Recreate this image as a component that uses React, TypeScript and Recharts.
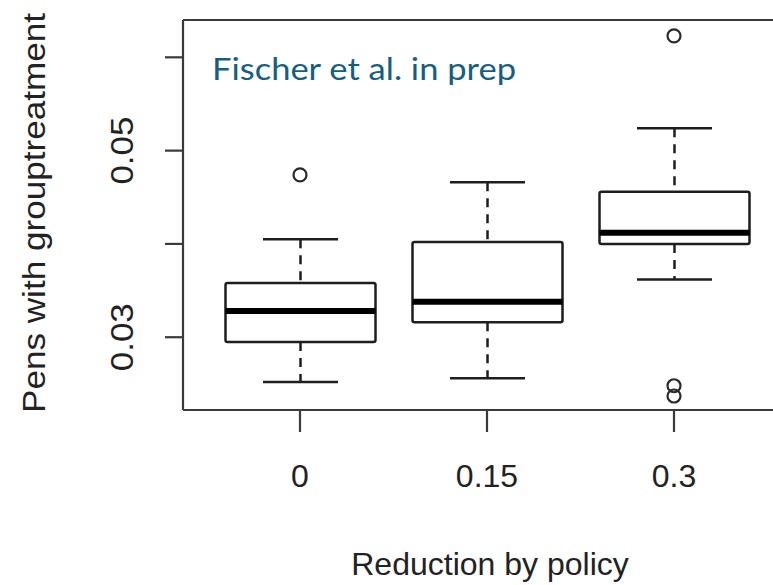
import React from 'react';
import { ComposedChart, Bar, Scatter, XAxis, YAxis, ReferenceLine } from 'recharts';

// ---- data ----
const categories = ['0', '0.15', '0.3'];
const lowerWhisker = [0.0252, 0.0256, 0.0362];
const q1 = [0.0295, 0.0316, 0.0400];
const median = [0.0328, 0.0338, 0.0412];
const q3 = [0.0358, 0.0402, 0.0456];
const upperWhisker = [0.0405, 0.0466, 0.0524];
const outlierGroups = ['0', '0.3', '0.3', '0.3'];
const outlierValues = [0.0474, 0.0623, 0.0248, 0.0237];
const yTicks = [0.03, 0.04, 0.05, 0.06];
const yTickLabels = ['0.03', '', '0.05', ''];
const yDomain = [0.0222, 0.0640];

const xTitle = 'Reduction by policy';
const yTitle = 'Pens with grouptreatment';
const note = 'Fischer et al. in prep';

const data = categories.map((g, i) => ({
  group: g,
  range: [lowerWhisker[i], upperWhisker[i]],
  lower: lowerWhisker[i],
  q1: q1[i],
  median: median[i],
  q3: q3[i],
  upper: upperWhisker[i],
}));

const outlierData = outlierGroups.map((g, i) => ({ group: g, value: outlierValues[i] }));

const FONT = '"Liberation Sans", Arial, Helvetica, sans-serif';
const INK = '#1e1e1e';

const BoxShape = (props: any) => {
  const { x, y, width, height, payload } = props;
  if (!payload) return null;
  const top = Math.min(y, y + height);
  const bot = Math.max(y, y + height);
  const span = payload.upper - payload.lower;
  const px = (v: number) => top + ((payload.upper - v) / span) * (bot - top);
  const cx = x + width / 2;
  const capHalf = width / 4;
  const yq1 = px(payload.q1);
  const yq3 = px(payload.q3);
  const ymed = px(payload.median);
  return (
    <g>
      <line x1={cx} x2={cx} y1={top} y2={yq3} stroke={INK} strokeWidth={2.5} strokeDasharray="9 7" />
      <line x1={cx} x2={cx} y1={yq1} y2={bot} stroke={INK} strokeWidth={2.5} strokeDasharray="9 7" />
      <line x1={cx - capHalf} x2={cx + capHalf} y1={top} y2={top} stroke={INK} strokeWidth={2.5} />
      <line x1={cx - capHalf} x2={cx + capHalf} y1={bot} y2={bot} stroke={INK} strokeWidth={2.5} />
      <rect x={x} y={yq3} width={width} height={yq1 - yq3} fill="#fff" stroke={INK} strokeWidth={2.5} rx={2} />
      <line x1={x} x2={x + width} y1={ymed} y2={ymed} stroke="#000" strokeWidth={6} />
    </g>
  );
};

const OutlierShape = (props: any) => {
  const { cx, cy } = props;
  return <circle cx={cx} cy={cy} r={6.5} fill="none" stroke="#2a2a2a" strokeWidth={2.2} />;
};

const XTick = (props: any) => {
  const { x, y, payload } = props;
  return (
    <text x={x} y={y + 53} textAnchor="middle" fontFamily={FONT} fontSize={32} fill="#222">
      {payload.value}
    </text>
  );
};

const YTick = (props: any) => {
  const { x, y, index } = props;
  const label = yTickLabels[index];
  if (!label) return null;
  const bx = x - 30;
  return (
    <text
      x={bx}
      y={y}
      transform={`rotate(-90 ${bx} ${y})`}
      textAnchor="middle"
      fontFamily={FONT}
      fontSize={32}
      fill="#222"
      textLength={68}
      lengthAdjust="spacingAndGlyphs"
    >
      {label}
    </text>
  );
};

export default function App() {
  return (
    <div style={{ position: 'absolute', left: 0, top: 0, width: 773, height: 585, background: '#fff' }}>
      <ComposedChart
        width={773}
        height={585}
        data={data}
        margin={{ top: 20, right: 0, bottom: 0, left: 0 }}
      >
        <XAxis
          dataKey="group"
          type="category"
          allowDuplicatedCategory={false}
          padding={{ left: 23.5, right: 5.5 }}
          height={175}
          interval={0}
          tickSize={22}
          axisLine={{ stroke: '#3a3a3a', strokeWidth: 2.2 }}
          tickLine={{ stroke: '#3a3a3a', strokeWidth: 2.2 }}
          tick={<XTick />}
        />
        <YAxis
          type="number"
          domain={yDomain}
          allowDataOverflow
          ticks={yTicks}
          width={183}
          tickSize={18}
          axisLine={{ stroke: '#3a3a3a', strokeWidth: 2.2 }}
          tickLine={{ stroke: '#3a3a3a', strokeWidth: 2.2 }}
          tick={<YTick />}
        />
        <ReferenceLine y={yDomain[1]} stroke="#3a3a3a" strokeWidth={2.2} />
        <Bar dataKey="range" barSize={150} shape={<BoxShape />} isAnimationActive={false} />
        <Scatter data={outlierData} dataKey="value" shape={<OutlierShape />} isAnimationActive={false} />
      </ComposedChart>
      <svg
        width={773}
        height={585}
        style={{ position: 'absolute', left: 0, top: 0, pointerEvents: 'none' }}
      >
        <text x={212} y={80} fontFamily="Lato, 'Open Sans', sans-serif" fontSize={30} fill="#175e7e" textLength={304} lengthAdjust="spacingAndGlyphs">
          {note}
        </text>
        <text x={490} y={575} textAnchor="middle" fontFamily={FONT} fontSize={32} fill="#222">
          {xTitle}
        </text>
        <text
          x={45}
          y={213}
          transform="rotate(-90 45 213)"
          textAnchor="middle"
          fontFamily={FONT}
          fontSize={32}
          fill="#222"
          textLength={400}
          lengthAdjust="spacingAndGlyphs"
        >
          {yTitle}
        </text>
      </svg>
    </div>
  );
}
